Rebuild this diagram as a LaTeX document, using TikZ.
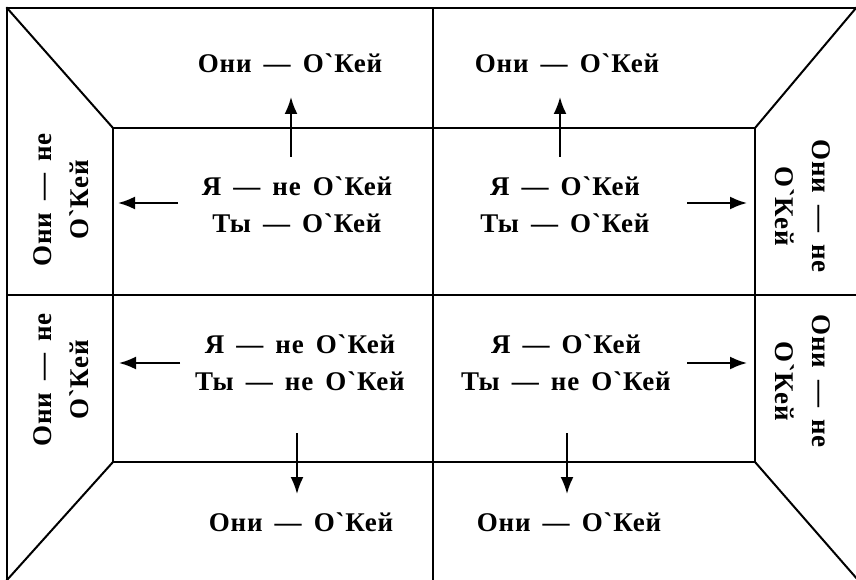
\documentclass[tikz,border=0pt]{standalone}
\usepackage{fontspec}
\setmainfont{Liberation Serif}[Ligatures=TeXOff, LetterSpace=3, WordSpace=1.6]
\usetikzlibrary{arrows.meta}
\newcommand{\gr}{{\char"0060}}
\tikzset{
  frame/.style={line width=2pt, line cap=rect},
  arr/.style={line width=2pt, -{Latex[length=17pt,width=13pt]}},
  lbl/.style={font=\bfseries\fontsize{27}{37}\selectfont, align=center, inner sep=0pt},
}
\begin{document}
\begin{tikzpicture}[x=1pt,y=-1pt]
\useasboundingbox (0,0) rectangle (856,580);
% corners
\coordinate (OTL) at (7,8);
\coordinate (OTR) at (856,8);
\coordinate (OBL) at (7,580);
\coordinate (OBR) at (858,580);
\coordinate (ITL) at (113,128);
\coordinate (ITR) at (755,128);
\coordinate (IBL) at (113,462);
\coordinate (IBR) at (755,462);
\coordinate (VT) at (433,8);
\coordinate (VB) at (433,580);
\coordinate (HL) at (7,295);
\coordinate (HR) at (856,295);
\draw[frame] (OTR) -- (OTL) -- (OBL);
\draw[frame] (VT) -- (VB);
\draw[frame] (HL) -- (HR);
\draw[frame] (ITL) rectangle (IBR);
\draw[frame] (OTL) -- (ITL);
\draw[frame] (OTR) -- (ITR);
\draw[frame] (OBL) -- (IBL);
\draw[frame] (OBR) -- (IBR);
% outer labels
\node[lbl] (t1) at (290,63) {Они — О\gr Кей};
\node[lbl] (t2) at (567,63) {Они — О\gr Кей};
\node[lbl] (b1) at (301,522) {Они — О\gr Кей};
\node[lbl] (b2) at (569,522) {Они — О\gr Кей};
\node[lbl, rotate=90] (l1) at (61,200) {Они — не\\О\gr Кей};
\node[lbl, rotate=90] (l2) at (61,380) {Они — не\\О\gr Кей};
\node[lbl, rotate=-90] (r1) at (803,206) {Они — не\\О\gr Кей};
\node[lbl, rotate=-90] (r2) at (803,381) {Они — не\\О\gr Кей};
% inner labels
\node[lbl] (q1) at (297,205) {Я — не О\gr Кей\\Ты — О\gr Кей};
\node[lbl] (q2) at (565,205) {Я — О\gr Кей\\Ты — О\gr Кей};
\node[lbl] (q3) at (300,363) {Я — не О\gr Кей\\Ты — не О\gr Кей};
\node[lbl] (q4) at (566,363) {Я — О\gr Кей\\Ты — не О\gr Кей};
% arrows
\coordinate (a1s) at (291,157); \coordinate (a1e) at (291,97);
\coordinate (a2s) at (560,157); \coordinate (a2e) at (560,97);
\coordinate (a3s) at (178,203); \coordinate (a3e) at (118,203);
\coordinate (a4s) at (687,203); \coordinate (a4e) at (747,203);
\coordinate (a5s) at (180,363); \coordinate (a5e) at (119,363);
\coordinate (a6s) at (687,363); \coordinate (a6e) at (747,363);
\coordinate (a7s) at (297,433); \coordinate (a7e) at (297,494);
\coordinate (a8s) at (567,433); \coordinate (a8e) at (567,494);
\foreach \i in {1,...,8} \draw[arr] (a\i s) -- (a\i e);
\end{tikzpicture}
\end{document}
